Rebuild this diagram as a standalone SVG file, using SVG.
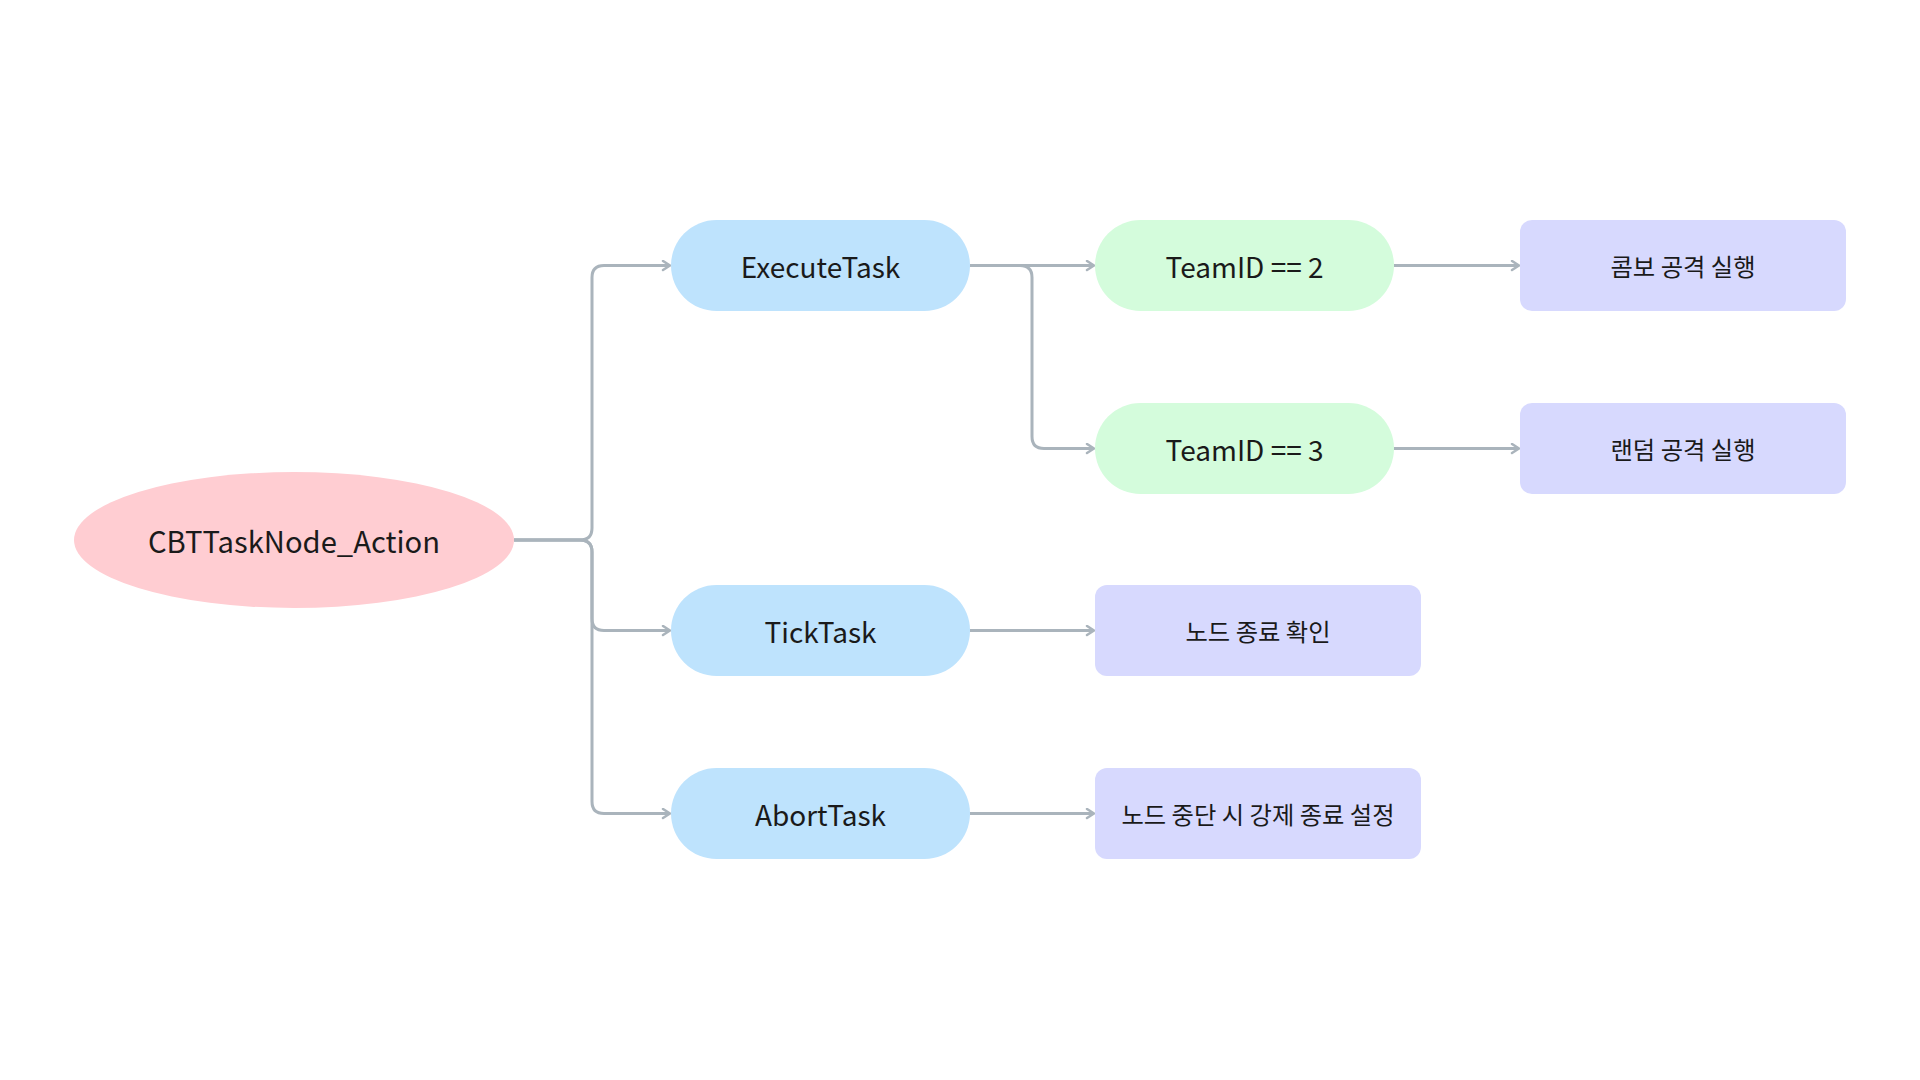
<svg xmlns="http://www.w3.org/2000/svg" width="1920" height="1080" viewBox="0 0 1920 1080">
  <defs>
    <marker id="arr" viewBox="0 0 10 12" refX="9" refY="6" markerWidth="10" markerHeight="12" markerUnits="userSpaceOnUse" orient="auto">
      <path d="M2,1.5 L9,6 L2,10.5" fill="none" stroke="#aab4bc" stroke-width="2.5" stroke-linecap="round" stroke-linejoin="round"/>
    </marker>
    <style>
      .edge { fill: none; stroke: #aab4bc; stroke-width: 3; marker-end: url(#arr); }
      .root { fill: #ffcdd2; }
      .task { fill: #bee3fd; }
      .cond { fill: #d4fcdc; }
      .act { fill: #d7d9fe; }
      .lbl { font-family: "Noto Sans CJK KR", "Noto Sans", sans-serif; font-size: 28px; fill: #1a1a1a; text-anchor: middle; dominant-baseline: central; }
      .big { font-size: 29.2px; }
      .kr { font-size: 24.3px; }
    </style>
  </defs>
  <rect width="1920" height="1080" fill="#ffffff"/>
  <g id="connectors">
    <path class="edge" d="M514,540 H580 Q592,540 592,528 V277.5 Q592,265.5 604,265.5 H670"/>
    <path class="edge" d="M514,540 H580 Q592,540 592,552 V618.5 Q592,630.5 604,630.5 H670"/>
    <path class="edge" d="M514,540 H580 Q592,540 592,552 V801.5 Q592,813.5 604,813.5 H670"/>
    <path class="edge" d="M970,265.5 H1094"/>
    <path class="edge" d="M970,265.5 H1020 Q1032,265.5 1032,277.5 V436.5 Q1032,448.5 1044,448.5 H1094"/>
    <path class="edge" d="M1394,265.5 H1519"/>
    <path class="edge" d="M1394,448.5 H1519"/>
    <path class="edge" d="M970,630.5 H1094"/>
    <path class="edge" d="M970,813.5 H1094"/>
  </g>
  <g id="node-root">
    <ellipse class="root" cx="294" cy="540" rx="220" ry="68"/>
    <text class="lbl big" x="294" y="540">CBTTaskNode_Action</text>
  </g>
  <g id="node-execute">
    <rect class="task" x="671" y="220" width="299" height="91" rx="45.5"/>
    <text class="lbl" x="820.5" y="265.5">ExecuteTask</text>
  </g>
  <g id="node-tick">
    <rect class="task" x="671" y="585" width="299" height="91" rx="45.5"/>
    <text class="lbl" x="820.5" y="630.5">TickTask</text>
  </g>
  <g id="node-abort">
    <rect class="task" x="671" y="768" width="299" height="91" rx="45.5"/>
    <text class="lbl" x="820.5" y="813.5">AbortTask</text>
  </g>
  <g id="node-team2">
    <rect class="cond" x="1095" y="220" width="299" height="91" rx="45.5"/>
    <text class="lbl" x="1244.5" y="265.5">TeamID == 2</text>
  </g>
  <g id="node-team3">
    <rect class="cond" x="1095" y="403" width="299" height="91" rx="45.5"/>
    <text class="lbl" x="1244.5" y="448.5">TeamID == 3</text>
  </g>
  <g id="node-combo">
    <rect class="act" x="1520" y="220" width="326" height="91" rx="12"/>
    <text class="lbl kr" x="1683" y="265.5">콤보 공격 실행</text>
  </g>
  <g id="node-random">
    <rect class="act" x="1520" y="403" width="326" height="91" rx="12"/>
    <text class="lbl kr" x="1683" y="448.5">랜덤 공격 실행</text>
  </g>
  <g id="node-endcheck">
    <rect class="act" x="1095" y="585" width="326" height="91" rx="12"/>
    <text class="lbl kr" x="1258" y="630.5">노드 종료 확인</text>
  </g>
  <g id="node-abortset">
    <rect class="act" x="1095" y="768" width="326" height="91" rx="12"/>
    <text class="lbl kr" x="1258" y="813.5">노드 중단 시 강제 종료 설정</text>
  </g>
</svg>
